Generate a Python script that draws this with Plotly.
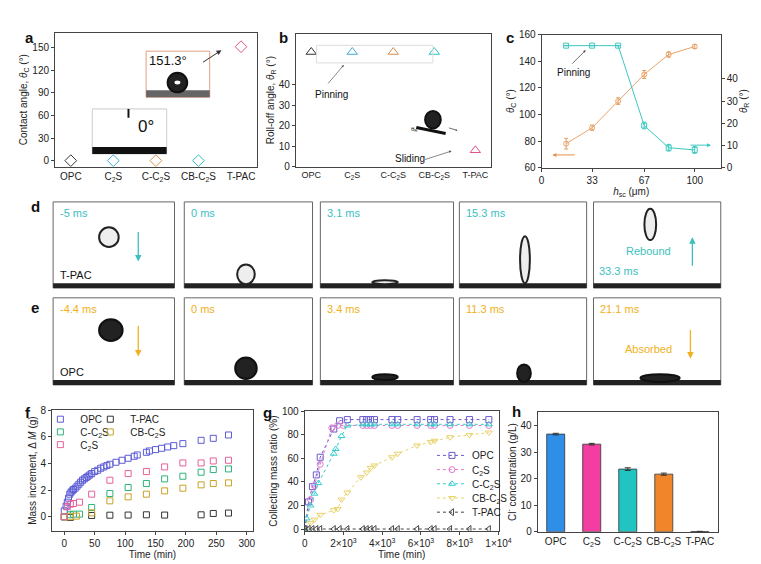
import plotly.graph_objects as go

W, H = 761, 564
def X(p): return p / W
def Y(p): return 1 - p / H

cats = ["OPC", "C<sub>2</sub>S", "C-C<sub>2</sub>S", "CB-C<sub>2</sub>S", "T-PAC"]
a_vals = [0, 0, 0, 0, 151.3]
a_cols = ["#333333", "#3fa9d8", "#d9904a", "#2ec4c4", "#e0508c"]
b_vals = [56, 56, 56, 56, 8]
b_cols = ["#333333", "#3fa9d8", "#d9904a", "#2ec4c4", "#e0508c"]

c_h = [16, 33, 50, 67, 83, 100]
c_theta_c = [78, 90, 110, 130, 145, 151]
c_theta_c_err = [4, 2, 2.5, 3, 2, 1.5]
c_theta_r = [55, 55, 55, 19, 9, 8]
c_theta_r_err = [0, 0, 0, 1.5, 1.5, 1.5]

f_opc_t = [0,3,5,7,9,11,13,15,18,21,24,27,30,33,36,39,42,45,50,55,60,65,70,75,85,95,105,115,120,135,140,150,160,170,180,195,225,245,270]
f_opc = [0.45,0.8,1.1,1.4,1.7,1.85,1.95,2.05,2.15,2.3,2.45,2.6,2.75,2.85,2.95,3.05,3.15,3.25,3.4,3.5,3.65,3.75,3.85,3.95,4.1,4.25,4.4,4.55,4.65,4.85,4.95,5.05,5.15,5.25,5.35,5.5,5.75,5.9,6.15]
f_c2s_t = [0,5,10,15,25,45,75,105,135,165,195,225,245,270]
f_c2s = [0,0.75,0.95,1.0,1.1,1.7,2.75,3.25,3.4,3.75,4.05,4.05,4.2,4.25]
f_cc2s_t = [0,10,15,25,45,75,105,135,165,195,225,245,270]
f_cc2s = [0,0.15,0.2,0.2,0.7,1.75,2.2,2.5,2.85,3.05,3.35,3.55,3.6]
f_cbc2s_t = [0,10,20,45,75,105,135,165,195,225,245,270]
f_cbc2s = [0,0.0,0.05,0.3,1.2,1.5,1.7,1.95,2.15,2.4,2.5,2.55]
f_tpac_t = [0,10,45,75,105,135,165,225,245,270]
f_tpac = [0,-0.05,0.1,0.12,0.13,0.15,0.13,0.15,0.25,0.28]

g_late_t = [3000,3200,3400,3600,4500,4800,5800,6500,6700,7500,8500,9500]
g_opc_t = [0,200,400,600,800,1500,1800,2200] + g_late_t
g_opc = [0,23,36,46,61,85,92,93] + [93]*12
g_c2s_t = [0,300,500,800,1400,1700,2000] + g_late_t
g_c2s = [0,25,37,55,86,88,88] + [88]*12
g_cc2s_t = [0,100,300,500,700,1500,1600,1900,2200] + g_late_t
g_cc2s = [0,9,20,30,39,64,68,79,88] + [89]*12
g_cbc2s_t = [0,300,500,800,1500,1700,1900,2200,2900,3200,3400,3600,4500,4800,5800,6500,6700,7500,8500,9500]
g_cbc2s = [0,5,8,12,16,17,25,31,44,48,52,54,61,64,71,74,75,78,80,82]
g_tpac_t = [0,200,400,600,800,1500,1800,2200] + g_late_t
g_tpac = [0]*20

h_vals = [36.8, 33.0, 23.6, 21.7, 0.1]
h_err = [0.3, 0.3, 0.5, 0.4, 0.05]
h_cols = ["#2f8ee6", "#f23ea0", "#20c4c0", "#f0852a", "#888888"]

FONT = "Liberation Sans, Arial, sans-serif"
fig = go.Figure()

common = dict(showline=True, linecolor="#444", mirror=True, ticks="outside", ticklen=3,
              tickfont=dict(size=10, color="#222"), showgrid=False, zeroline=False)
lay = {}
boxes = {1: ((45, 251), (19, 156)), 2: ((291, 490), (20, 156)), 3: ((542, 725), (21, 157)),
         5: ((42, 247), (405, 528)), 6: ((300, 498), (406, 528)), 7: ((538, 722), (407, 529))}
for n, (xd, yd) in boxes.items():
    lay["xaxis%d" % n] = dict(common, domain=[X(xd[0]), X(xd[1])], anchor="y%d" % n)
    lay["yaxis%d" % n] = dict(common, domain=[Y(yd[1]), Y(yd[0])], anchor="x%d" % n)
ttl = lambda s, sd=2: dict(text=s, font=dict(size=10), standoff=sd)

# a
fig.add_trace(go.Scatter(x=cats, y=a_vals, mode="markers", xaxis="x1", yaxis="y1", showlegend=False,
    marker=dict(symbol="diamond-open", size=9, color=a_cols, line=dict(width=1))))
lay["xaxis1"].update(type="category", ticks="", tickangle=0)
lay["yaxis1"].update(range=[-8, 170], tickvals=[0,30,60,90,120,150],
    title=ttl("Contact angle, <i>θ</i><sub>C</sub> (°)"))
# b
fig.add_trace(go.Scatter(x=cats, y=b_vals, mode="markers", xaxis="x2", yaxis="y2", showlegend=False,
    marker=dict(symbol="triangle-up-open", size=9, color=b_cols, line=dict(width=1))))
lay["xaxis2"].update(type="category", ticks="", tickangle=0, tickfont=dict(size=9))
lay["yaxis2"].update(range=[0, 65], tickvals=[0,10,20,30,40],
    title=ttl("Roll-off angle, <i>θ</i><sub>R</sub> (°)"))
# c
fig.add_trace(go.Scatter(x=c_h, y=c_theta_c, mode="lines+markers", xaxis="x3", yaxis="y3", showlegend=False,
    error_y=dict(array=c_theta_c_err, color="#e8a060", thickness=1, width=2),
    line=dict(color="#eaa46a", width=1), marker=dict(symbol="circle-open", size=5, color="#eaa46a")))
fig.add_trace(go.Scatter(x=c_h, y=c_theta_r, mode="lines+markers", xaxis="x3", yaxis="y4", showlegend=False,
    error_y=dict(array=c_theta_r_err, color="#3cc8c0", thickness=1, width=2),
    line=dict(color="#3cc8c0", width=1), marker=dict(symbol="square-open", size=5, color="#3cc8c0")))
lay["xaxis3"].update(range=[0, 117], tickvals=[0,33,67,100], title=ttl("<i>h</i><sub>sc</sub> (μm)", 0))
lay["yaxis3"].update(range=[60, 160], tickvals=[60,80,100,120,140,160], mirror=False,
    title=ttl("<i>θ</i><sub>C</sub> (°)"))
lay["yaxis4"] = dict(common, overlaying="y3", side="right", anchor="x3", range=[0, 60],
    tickvals=[0,10,20,30,40], title=ttl("<i>θ</i><sub>R</sub> (°)"))

legends = {}
def leg_name(i): return "legend" if i == 1 else "legend%d" % i
li = 0
# f
f_series = [("OPC", f_opc_t, f_opc, "#5b5bd6", 30, 414), ("T-PAC", f_tpac_t, f_tpac, "#333333", 81, 414),
            ("C-C<sub>2</sub>S", f_cc2s_t, f_cc2s, "#2db37a", 30, 427), ("CB-C<sub>2</sub>S", f_cbc2s_t, f_cbc2s, "#c9a227", 81, 427),
            ("C<sub>2</sub>S", f_c2s_t, f_c2s, "#e8609c", 30, 440)]
for name, t, v, c, lx, ly in f_series:
    li += 1
    fig.add_trace(go.Scatter(x=t, y=v, mode="markers", name=name, xaxis="x5", yaxis="y5", legend=leg_name(li),
        marker=dict(symbol="square-open", size=6, color=c, line=dict(width=1))))
    legends[leg_name(li)] = dict(x=X(lx), y=Y(ly), xanchor="left", yanchor="middle", bgcolor="rgba(0,0,0,0)",
        font=dict(size=10), itemwidth=30)
lay["xaxis5"].update(range=[-20, 310], tickvals=[0,50,100,150,200,250,300], title=ttl("Time (min)"))
lay["yaxis5"].update(range=[-1.05, 8.0], tickvals=[0,2,4,6,8], title=ttl("Mass increment, Δ <i>M</i> (g)"))

# g
g_series = [("OPC", g_opc_t, g_opc, "#6a5acd", "square-open"), ("C<sub>2</sub>S", g_c2s_t, g_c2s, "#e07ad0", "circle-open"),
            ("C-C<sub>2</sub>S", g_cc2s_t, g_cc2s, "#33cccc", "triangle-up-open"),
            ("CB-C<sub>2</sub>S", g_cbc2s_t, g_cbc2s, "#e8d36a", "triangle-down-open"),
            ("T-PAC", g_tpac_t, g_tpac, "#444444", "triangle-left-open")]
for k, (name, t, v, c, s) in enumerate(g_series):
    li += 1
    fig.add_trace(go.Scatter(x=t, y=v, mode="lines+markers", name=name, xaxis="x6", yaxis="y6", legend=leg_name(li),
        line=dict(color=c, width=1, dash="dot"), marker=dict(symbol=s, size=6, color=c, line=dict(width=1))))
    legends[leg_name(li)] = dict(x=X(430), y=Y(451 + 14.5 * k), xanchor="left", yanchor="middle",
        bgcolor="rgba(0,0,0,0)", font=dict(size=10), itemwidth=30)
lay["xaxis6"].update(range=[0, 10000], tickvals=[0,2000,4000,6000,8000,10000],
    ticktext=["0","2×10<sup>3</sup>","4×10<sup>3</sup>","6×10<sup>3</sup>","8×10<sup>3</sup>","1×10<sup>4</sup>"],
    title=ttl("Time (min)"))
lay["yaxis6"].update(range=[-1.5, 100], tickvals=[0,20,40,60,80,100], title=ttl("Collecting mass ratio (%)"))

# h
fig.add_trace(go.Bar(x=cats, y=h_vals, xaxis="x7", yaxis="y7", showlegend=False, width=0.5,
    marker=dict(color=h_cols, line=dict(color="#333", width=0.8)),
    error_y=dict(array=h_err, color="#333", thickness=1, width=3)))
lay["xaxis7"].update(type="category", ticks="", tickangle=0)
lay["yaxis7"].update(range=[0, 45], tickvals=[0,10,20,30,40], title=ttl("Cl<sup>-</sup> concentration (g/L)"))

shapes, ann = [], []
def txt(x, y, s, size=10, color="#111", bold=False, xa="left"):
    ann.append(dict(x=X(x), y=Y(y), xref="paper", yref="paper", text=("<b>%s</b>" % s) if bold else s,
        showarrow=False, xanchor=xa, yanchor="middle", font=dict(size=size, color=color, family=FONT)))

def arrow(x, y, x0, y0, color="#333", w=1, size=1):
    ann.append(dict(x=X(x), y=Y(y), ax=x0 - x, ay=y0 - y, xref="paper", yref="paper",
        showarrow=True, arrowhead=2, arrowsize=size, arrowwidth=w, arrowcolor=color, text=""))

def rect(x0, x1, y0, y1, fill="white", line="#666", lw=1):
    shapes.append(dict(type="rect", xref="paper", yref="paper", x0=X(x0), x1=X(x1), y0=Y(y1), y1=Y(y0),
        line=dict(color=line, width=lw), fillcolor=fill))

def oval(cx, cy, rx, ry, fill="#333", line="#111", lw=2):
    shapes.append(dict(type="circle", xref="paper", yref="paper", x0=X(cx - rx), x1=X(cx + rx),
        y0=Y(cy + ry), y1=Y(cy - ry), line=dict(color=line, width=lw), fillcolor=fill))

for lab, x, y in [("a", 12, 24), ("b", 272, 24), ("c", 504, 24), ("d", 18, 197), ("e", 18, 300),
                  ("f", 12, 407), ("g", 255, 407), ("h", 510, 406)]:
    txt(x, y, lab, size=15, bold=True)

# insets panel a
rect(138, 203, 38, 85, line="#e0a080")
rect(138, 203, 78, 85, fill="#666", lw=0)
oval(170, 70, 10, 10, fill="#222")
oval(170, 70, 3, 2, fill="white", lw=0)
txt(139, 48, "151.3°", size=13)
arrow(215, 37, 195, 50, size=1)
rect(83, 159, 97, 143, line="#ccc")
rect(83, 159, 136, 143, fill="#111", lw=0)
rect(119, 121, 97, 106, fill="#111", lw=0)
txt(128, 115, "0°", size=17)

# panel b annotations
rect(312, 431, 32, 50, fill="rgba(0,0,0,0)", line="#ddd")
txt(308, 82, "Pinning", size=10)
arrow(340, 52, 323, 72, color="#555", w=0.7, size=0.7)
txt(390, 148, "Sliding", size=10)
arrow(450, 140, 422, 149, color="#555", w=0.7, size=0.7)
oval(431, 108, 8, 9, fill="#222")
shapes.append(dict(type="line", xref="paper", yref="paper", x0=X(414), x1=X(444), y0=Y(116), y1=Y(122),
    line=dict(color="#111", width=3)))
txt(407, 118, "θ<sub>R</sub>", size=6)
arrow(456, 119, 446, 116, color="#333", w=0.7, size=0.5)
# panel c annotations
txt(556, 60, "Pinning", size=10)
arrow(587, 37, 572, 52, color="#333", w=0.7, size=0.7)
arrow(553, 144, 577, 144, color="#e8904a", w=1, size=0.8)
arrow(715, 134, 693, 134, color="#3cc8c0", w=1, size=0.8)

# photo strips d, e
px = [(43, 167), (177, 308), (316, 452), (458, 588), (595, 725)]
rows = [((192, 280), ["-5 ms", "0 ms", "3.1 ms", "15.3 ms", ""], "#3cc0c0", "T-PAC"),
        ((290, 379), ["-4.4 ms", "0 ms", "3.4 ms", "11.3 ms", "21.1 ms"], "#f0b020", "OPC")]
for ri, ((y0, y1), labels, col, name) in enumerate(rows):
    for i, (x0, x1) in enumerate(px):
        rect(x0, x1, y0, y1)
        rect(x0, x1, y1 - 5, y1, fill="#222", lw=0)
        if labels[i]:
            txt(x0 + 5, y0 + 11, labels[i], size=11, color=col)
    txt(48, y1 - 13, name, size=11)
for cx, cy, rx, ry in [(100, 228, 10, 10), (240, 266, 9, 10), (382, 274, 13, 2), (525, 251, 5, 24), (653, 215, 6, 16)]:
    oval(cx, cy, rx, ry, fill="#eee", line="#222", lw=2)
for cx, cy, rx, ry in [(102, 323, 12, 11), (240, 362, 11, 11), (382, 371, 13, 3), (524, 367, 7, 9), (663, 372, 20, 4)]:
    oval(cx, cy, rx, ry, fill="#222", line="#111", lw=2)
arrow(130, 253, 130, 222, color="#3cc0c0", w=1.3)
arrow(130, 350, 130, 318, color="#f0b020", w=1.3)
txt(626, 242, "Rebound", size=11, color="#3cc0c0")
txt(599, 263, "33.3 ms", size=11, color="#3cc0c0")
arrow(696, 228, 696, 258, color="#3cc0c0", w=1.3)
txt(625, 342, "Absorbed", size=11, color="#f0b020")
arrow(694, 352, 694, 322, color="#f0b020", w=1.3)

fig.update_layout(width=W, height=H, margin=dict(l=0, r=0, t=0, b=0), plot_bgcolor="white",
    paper_bgcolor="white", font=dict(family=FONT, size=10, color="#222"), shapes=shapes, annotations=ann,
    **legends, **lay)
fig.write_html("out.html")
